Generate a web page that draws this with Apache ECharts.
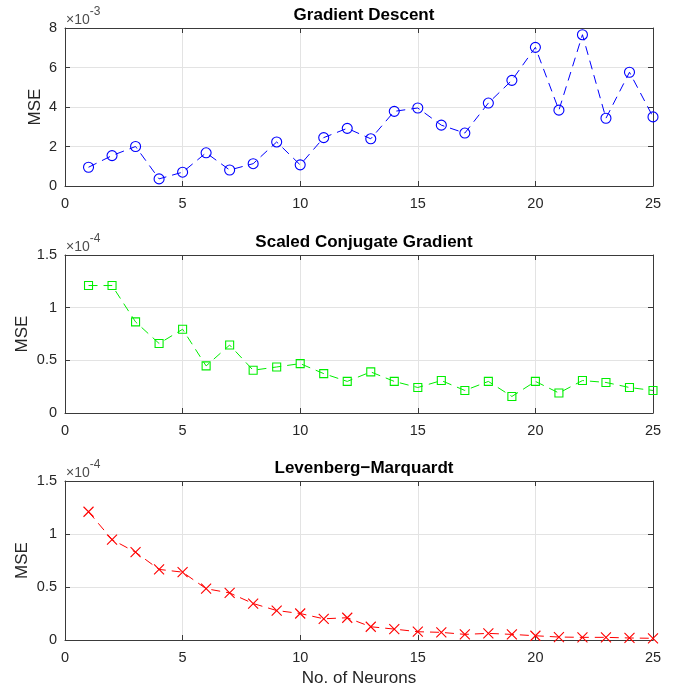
<!DOCTYPE html>
<html>
<head>
<meta charset="utf-8">
<script src="https://cdn.jsdelivr.net/npm/echarts@6/dist/echarts.min.js"></script>
<style>html,body{margin:0;padding:0;background:#fff}#c{width:673px;height:692px}</style>
</head>
<body>
<div id="c"></div>
<script>
// Data (x = number of neurons)
const neurons = [1,2,3,4,5,6,7,8,9,10,11,12,13,14,15,16,17,18,19,20,21,22,23,24,25];
// Gradient Descent MSE, in units of 1e-3
const gdMSE = [0.95,1.54,2.0,0.36,0.70,1.68,0.81,1.13,2.23,1.07,2.45,2.92,2.39,3.78,3.95,3.08,2.68,4.2,5.35,7.02,3.84,7.66,3.43,5.76,3.5];
// Scaled Conjugate Gradient MSE, in units of 1e-4
const scgMSE = [1.21,1.21,0.865,0.66,0.795,0.447,0.645,0.406,0.437,0.469,0.374,0.30,0.39,0.30,0.242,0.308,0.214,0.30,0.157,0.30,0.19,0.308,0.29,0.242,0.214];
// Levenberg-Marquardt MSE, in units of 1e-4
const lmMSE = [1.21,0.947,0.828,0.666,0.64,0.484,0.444,0.344,0.278,0.25,0.20,0.21,0.125,0.103,0.078,0.072,0.053,0.0625,0.053,0.04,0.028,0.025,0.025,0.019,0.016];

const titles = ['Gradient Descent','Scaled Conjugate Gradient','Levenberg\u2212Marquardt'];
const exponents = ['-3','-4','-4'];
const yMax = [8,1.5,1.5];
const yInterval = [2,0.5,0.5];

const FONT = '"Liberation Sans", Arial, Helvetica, sans-serif';
const AX = '#3a3a3a';
const TXT = '#262626';
const GRID = '#e3e3e3';

const grids = [
  {left:65, right:20, top:28, height:158},
  {left:65, right:20, top:255, height:158},
  {left:65, right:20, top:481, height:159}
];

const xAxes = [], yAxes = [], series = [], titleArr = [], graphics = [];
const colors = ['#0000ff','#00ee00','#ff0000'];
const symbols = ['circle','rect','path://M0,0L10,10M10,0L0,10'];
const symSizes = [10,8,10];
const datasets = [gdMSE, scgMSE, lmMSE];

for (let i=0;i<3;i++){
  xAxes.push({
    type:'value', gridIndex:i, min:0, max:25, interval:5, position:'bottom',
    name: i===2 ? 'No. of Neurons' : '', nameLocation:'middle', nameGap:30,
    nameMoveOverlap:false,
    nameTextStyle:{fontFamily:FONT, fontSize:17, color:TXT},
    axisLine:{show:true, lineStyle:{color:AX, width:1}},
    axisTick:{show:true, inside:true, length:5, lineStyle:{color:AX}},
    axisLabel:{show:true, color:TXT, fontFamily:FONT, fontSize:14.5, margin:10,
      formatter:v=>String(v)},
    splitLine:{show:true, lineStyle:{color:GRID, width:1}}
  });
  xAxes.push({
    type:'value', gridIndex:i, min:0, max:25, interval:5, position:'top',
    axisLine:{show:true, onZero:false, lineStyle:{color:AX, width:1}},
    axisTick:{show:true, inside:true, length:5, lineStyle:{color:AX}},
    axisLabel:{show:false}, splitLine:{show:false}
  });
  yAxes.push({
    type:'value', gridIndex:i, min:0, max:yMax[i], interval:yInterval[i], position:'left',
    name:'MSE', nameLocation:'middle', nameGap: i===0 ? 21 : 34,
    nameMoveOverlap:false,
    nameTextStyle:{fontFamily:FONT, fontSize:17, color:TXT},
    axisLine:{show:true, lineStyle:{color:AX, width:1}},
    axisTick:{show:true, inside:true, length:5, lineStyle:{color:AX}},
    axisLabel:{show:true, color:TXT, fontFamily:FONT, fontSize:14.5, margin:8,
      formatter:v=>String(v)},
    splitLine:{show:true, lineStyle:{color:GRID, width:1}}
  });
  yAxes.push({
    type:'value', gridIndex:i, min:0, max:yMax[i], interval:yInterval[i], position:'right',
    axisLine:{show:true, onZero:false, lineStyle:{color:AX, width:1}},
    axisTick:{show:true, inside:true, length:5, lineStyle:{color:AX}},
    axisLabel:{show:false}, splitLine:{show:false}
  });
  series.push({
    type:'line', xAxisIndex:2*i, yAxisIndex:2*i,
    data: neurons.map((n,k)=>[n, datasets[i][k]]),
    symbol: symbols[i], symbolSize: symSizes[i], showSymbol:true,
    lineStyle:{color:colors[i], width:1, type:[9,6]},
    itemStyle:{color:'rgba(0,0,0,0)', borderColor:colors[i], borderWidth:1.1},
    emphasis:{disabled:true}, animation:false, z:3, clip:false
  });
  titleArr.push({
    text: titles[i], left:359, textAlign:'center', top: grids[i].top - 26,
    textStyle:{fontFamily:FONT, fontSize:17, fontWeight:'bold', color:'#000'}
  });
  graphics.push({
    type:'text', left:66, top: grids[i].top - 22,
    style:{
      text:'{a|\u00d710}{b|' + exponents[i] + '}',
      rich:{
        a:{fontFamily:FONT, fontSize:14, fill:'#4d4d4d', verticalAlign:'bottom', padding:[7,0,0,0]},
        b:{fontFamily:FONT, fontSize:12, fill:'#4d4d4d', verticalAlign:'top', padding:[0,0,7,0]}
      }
    }
  });
}

const chart = echarts.init(document.getElementById('c'), null, {renderer:'canvas'});
chart.setOption({
  animation:false,
  backgroundColor:'#fff',
  title: titleArr,
  grid: grids,
  xAxis: xAxes,
  yAxis: yAxes,
  series: series,
  graphic: graphics
});
</script>
</body>
</html>
